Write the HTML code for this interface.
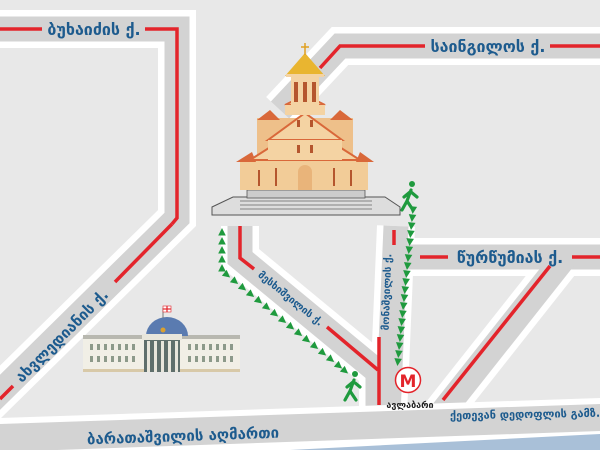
<!DOCTYPE html>
<html><head><meta charset="utf-8"><style>
html,body{margin:0;padding:0;background:#e8e8e8;}
svg{display:block}
text{font-family:"DejaVu Sans","Liberation Sans",sans-serif;font-weight:bold;fill:#1d5b8e}
</style></head><body>
<svg width="600" height="450" viewBox="0 0 600 450" xmlns="http://www.w3.org/2000/svg">
<defs>
<marker id="tri" markerUnits="userSpaceOnUse" markerWidth="10" markerHeight="10" viewBox="-5 -5 10 10" orient="auto">
<path d="M-3.5,-3.8 L4,0 L-3.5,3.8z" fill="#1f9a3e"/>
</marker>
</defs>
<rect width="600" height="450" fill="#e8e8e8"/>
<g fill="none" stroke-linejoin="miter">
<!-- white outlines -->
<g stroke="#fff" stroke-width="38">
<polyline points="-20,29 177,29 177,218 -20,412"/>
<polyline points="280,110 340,46 620,46"/>
<polyline points="240,226 240,258 378,372 378,415"/>
<polyline points="396,226 388,415"/>
<polyline points="392,257 620,257"/>
<polyline points="565,257 440,415"/>
</g>
<g stroke="#d3d3d3" stroke-width="25">
<polyline points="-20,29 177,29 177,218 -20,412"/>
<polyline points="280,110 340,46 620,46"/>
<polyline points="240,226 240,258 378,372 378,415"/>
<polyline points="396,226 388,415"/>
<polyline points="392,257 620,257"/>
<polyline points="565,257 440,415"/>
</g>
</g>
<!-- cover tops of roads under cathedral -->
<rect x="215" y="205" width="200" height="20" fill="#e8e8e8"/>
<!-- bottom road -->
<polygon points="0,418 600,398 600,440 0,460" fill="#fff"/>
<polygon points="0,424 600,404 600,431 0,452" fill="#d3d3d3"/>
<polygon points="290,450 600,434 600,450" fill="#a9c0d8"/>
<!-- red lines -->
<g stroke="#e3242b" stroke-width="3.5" fill="none">
<polyline points="0,29 42,29"/>
<polyline points="145,29 177,29 177,218 172,224"/>
<polyline points="115,282 172,224"/>
<polyline points="0,399 13,386"/>
<polyline points="320,68 340,46 425,46"/>
<polyline points="550,46 600,46"/>
<polyline points="240,226 240,258 254,269"/>
<polyline points="327,327 378,370"/>
<polyline points="379,337 379,405"/>
<polyline points="394,230 394,245"/>
<polyline points="420,257 448,257"/>
<polyline points="572,257 600,257"/>
<polyline points="550,266 443,400"/>
</g>
<!-- labels -->
<text x="94" y="35" font-size="16" text-anchor="middle">ბუხაიძის ქ.</text>
<text x="488" y="52" font-size="16" text-anchor="middle">საინგილოს ქ.</text>
<text x="510" y="263" font-size="16" text-anchor="middle">წურწუმიას ქ.</text>
<text transform="translate(62,336) rotate(-45)" font-size="15" text-anchor="middle" dy="5">ახვლედიანის ქ.</text>
<text transform="translate(291,298) rotate(39)" font-size="10" text-anchor="middle" dy="4">მესხიშვილის ქ.</text>
<text transform="translate(386,292) rotate(-88)" font-size="10" text-anchor="middle" dy="4">მონაშვილის ქ.</text>
<text transform="translate(183,436) rotate(-2)" font-size="15" text-anchor="middle" dy="5">ბარათაშვილის აღმართი</text>
<text transform="translate(525,414) rotate(-1)" font-size="11" text-anchor="middle" dy="4">ქეთევან დედოფლის გამზ.</text>
<text x="410" y="408" font-size="9" text-anchor="middle" style="fill:#222">ავლაბარი</text>
<!-- metro -->
<circle cx="408" cy="380" r="12.5" fill="#fff" stroke="#e3242b" stroke-width="1.5"/>
<text x="408" y="387" font-size="17" text-anchor="middle" style="fill:#e3242b">M</text>
<!-- green arrows -->
<g fill="none" stroke="none" marker-start="url(#tri)" marker-mid="url(#tri)" marker-end="url(#tri)">
<polyline points="222,268 222,259 222,250 222,241 222,232"/>
<polyline points="227,275 235,281.5 243,288 251,294.5 259,301 267,307.5 275,314 283,320.5 291,327 299,333.5 307,340 315,346.5 323,353 331,359.5 339,366 345,371"/>
<polyline points="413,210 412.2,218 411.4,226 410.6,234 409.8,242 409,250 408.2,258 407.4,266 406.6,274 405.8,282 405,290 404.2,298 403.4,306 402.6,314 401.8,322 401,330 400.2,338 399.4,346 398.6,354 397.8,362"/>
</g>
<!-- walkers -->
<g stroke="#1f9a3e" stroke-width="3.2" stroke-linecap="round" fill="none">
<circle cx="412" cy="184" r="3" fill="#1f9a3e" stroke="none"/>
<path d="M411,190 L407,201 L402,210 M407,201 L413,210 M410,192 L404,197 M411,192 L417,197"/>
<circle cx="355" cy="374" r="3" fill="#1f9a3e" stroke="none"/>
<path d="M354,380 L350,391 L345,400 M350,391 L356,400 M353,382 L347,387 M354,382 L360,387"/>
</g>
<!-- cathedral steps -->
<polygon points="233,197 385,197 400,207 400,215 212,215 212,207" fill="#ddd" stroke="#555" stroke-width="1"/>
<rect x="247" y="190" width="118" height="8" fill="#ccc" stroke="#555" stroke-width="0.8"/>
<g stroke="#666" stroke-width="0.8"><line x1="240" y1="201" x2="372" y2="201"/><line x1="240" y1="205" x2="372" y2="205"/><line x1="240" y1="209" x2="372" y2="209"/></g>
<!-- cathedral -->
<g>
<rect x="240" y="160" width="128" height="30" fill="#f2cc98"/>
<polygon points="236,162 252,152 256,162" fill="#d9683a"/>
<polygon points="356,162 360,152 374,162" fill="#d9683a"/>
<rect x="257" y="118" width="96" height="42" fill="#eec08a"/>
<polygon points="257,120 270,110 280,120" fill="#d9683a"/>
<polygon points="330,120 340,110 353,120" fill="#d9683a"/>
<polygon points="250,160 305,125 360,160" fill="#f4d3a3" stroke="#d9683a" stroke-width="2"/>
<polygon points="268,140 305,113 342,140" fill="#f4d3a3" stroke="#d9683a" stroke-width="2"/>
<rect x="268" y="140" width="74" height="20" fill="#f4d3a3"/>
<polygon points="285,105 305,95 325,105" fill="#f4d3a3" stroke="#d9683a" stroke-width="2"/>
<rect x="285" y="105" width="40" height="10" fill="#f4d3a3"/>
<rect x="291" y="76" width="28" height="30" fill="#f4d3a3"/>
<rect x="294" y="82" width="4" height="20" fill="#b5562e"/>
<rect x="303" y="82" width="4" height="20" fill="#b5562e"/>
<rect x="312" y="82" width="4" height="20" fill="#b5562e"/>
<polygon points="285,76 305,53 325,76" fill="#e9b530"/>
<rect x="286" y="74" width="38" height="3" fill="#f4d3a3"/>
<line x1="305" y1="43" x2="305" y2="55" stroke="#e0a020" stroke-width="1.5"/>
<line x1="301" y1="47" x2="309" y2="47" stroke="#e0a020" stroke-width="1.5"/>
<path d="M298,190 v-18 a7,7 0 0 1 14,0 v18z" fill="#e9b47a"/>
<g fill="#b5562e">
<rect x="275" y="168" width="2" height="18"/><rect x="333" y="168" width="2" height="18"/>
<rect x="258" y="170" width="2" height="16"/><rect x="350" y="170" width="2" height="16"/>
<rect x="297" y="145" width="3" height="8"/><rect x="310" y="145" width="3" height="8"/>
<rect x="297" y="120" width="3" height="7"/><rect x="310" y="120" width="3" height="7"/>
</g>
</g>
<!-- palace -->
<g>
<rect x="83" y="337" width="157" height="35" fill="#f1efe6"/>
<rect x="83" y="335" width="157" height="4" fill="#b8b8b0"/>
<g fill="#8d9a8a">
<rect x="90" y="344" width="3" height="6"/><rect x="97" y="344" width="3" height="6"/><rect x="104" y="344" width="3" height="6"/><rect x="111" y="344" width="3" height="6"/><rect x="118" y="344" width="3" height="6"/><rect x="125" y="344" width="3" height="6"/><rect x="132" y="344" width="3" height="6"/>
<rect x="90" y="356" width="3" height="6"/><rect x="97" y="356" width="3" height="6"/><rect x="104" y="356" width="3" height="6"/><rect x="111" y="356" width="3" height="6"/><rect x="118" y="356" width="3" height="6"/><rect x="125" y="356" width="3" height="6"/><rect x="132" y="356" width="3" height="6"/>
<rect x="188" y="344" width="3" height="6"/><rect x="195" y="344" width="3" height="6"/><rect x="202" y="344" width="3" height="6"/><rect x="209" y="344" width="3" height="6"/><rect x="216" y="344" width="3" height="6"/><rect x="223" y="344" width="3" height="6"/><rect x="230" y="344" width="3" height="6"/>
<rect x="188" y="356" width="3" height="6"/><rect x="195" y="356" width="3" height="6"/><rect x="202" y="356" width="3" height="6"/><rect x="209" y="356" width="3" height="6"/><rect x="216" y="356" width="3" height="6"/><rect x="223" y="356" width="3" height="6"/><rect x="230" y="356" width="3" height="6"/>
</g>
<rect x="83" y="369" width="157" height="3" fill="#d8c9a8"/>
<path d="M146,336 a21,19 0 0 1 42,0z" fill="#5a7bb0"/>
<rect x="142" y="334" width="40" height="6" fill="#e8e6dc"/>
<rect x="144" y="340" width="36" height="32" fill="#5f6f6c"/>
<g fill="#e8e6dc"><rect x="147" y="341" width="3" height="31"/><rect x="154" y="341" width="3" height="31"/><rect x="161" y="341" width="3" height="31"/><rect x="168" y="341" width="3" height="31"/><rect x="175" y="341" width="3" height="31"/></g>
<circle cx="163" cy="330" r="2.5" fill="#d9a030"/>
<line x1="163" y1="308" x2="163" y2="318" stroke="#777" stroke-width="1"/>
<rect x="163" y="306" width="8" height="6" fill="#fff" stroke="#e3242b" stroke-width="0.6"/>
<line x1="167" y1="306" x2="167" y2="312" stroke="#e3242b" stroke-width="1.2"/>
<line x1="163" y1="309" x2="171" y2="309" stroke="#e3242b" stroke-width="1.2"/>
</g>
</svg>
</body></html>
